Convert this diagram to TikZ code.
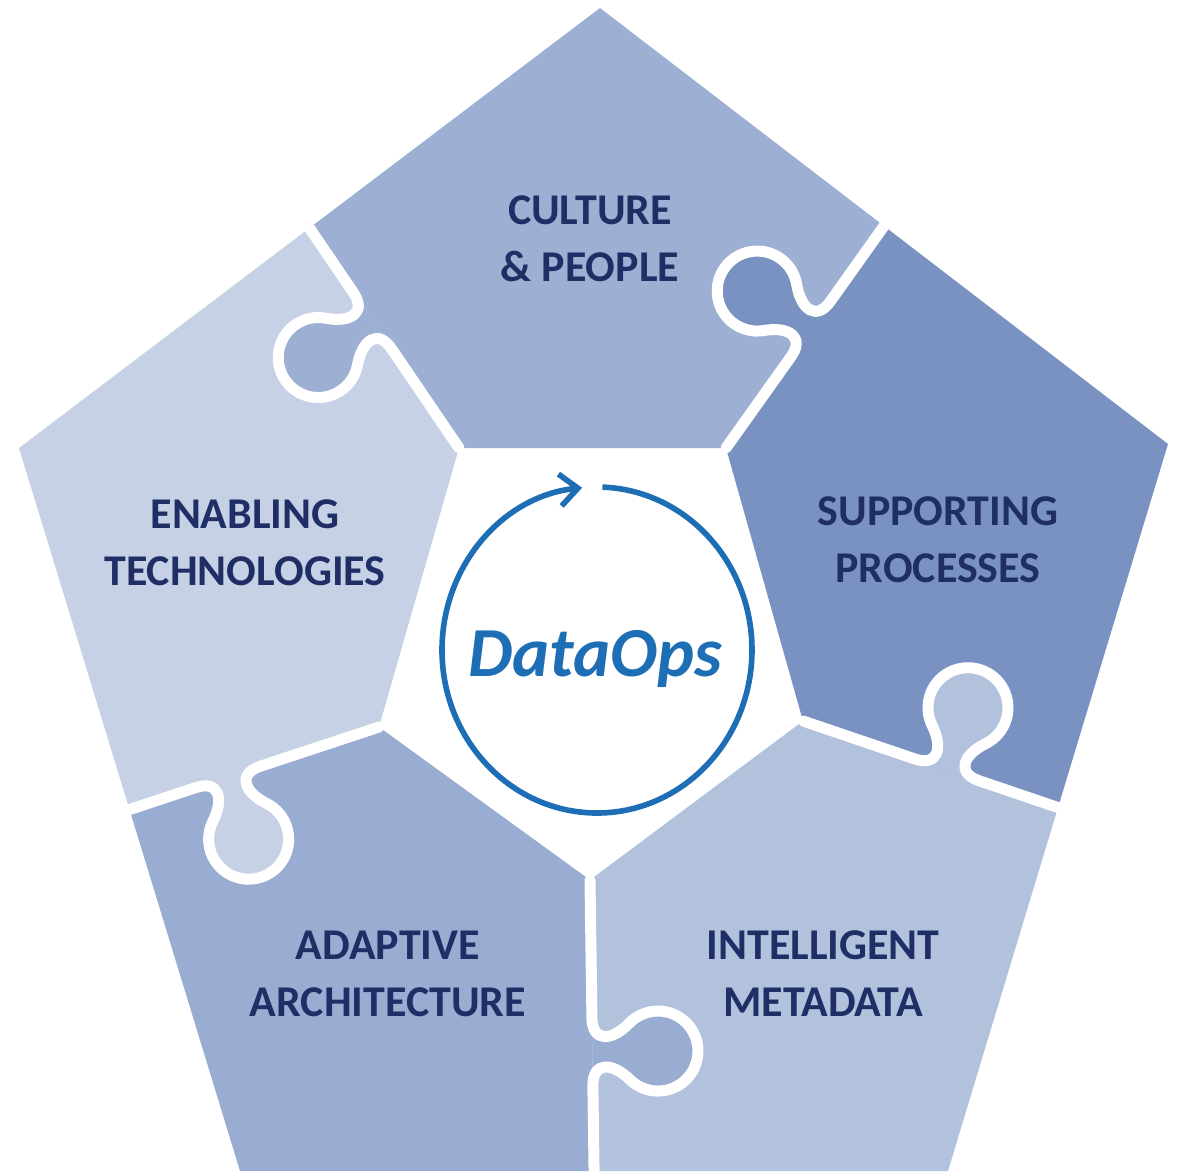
\documentclass[tikz,border=0pt]{standalone}
\usepackage{fontspec}
\setmainfont{Carlito}
\usetikzlibrary{arrows.meta}

\definecolor{culture}{HTML}{9DAFD3}
\definecolor{supporting}{HTML}{7A92C2}
\definecolor{intelligent}{HTML}{B2C1DC}
\definecolor{adaptive}{HTML}{99ACD2}
\definecolor{enabling}{HTML}{C6D1E6}
\definecolor{labelblue}{HTML}{1F2F66}
\definecolor{opsblue}{HTML}{1E6EB6}

\tikzset{
  piecelabel/.style={text=labelblue, font=\fontsize{12.5}{16.2}\selectfont\bfseries, align=center},
  gapline/.style={white, line width=0.11cm, line join=round, line cap=round}
}

\newcommand{\knobedge}[5]{%
  \begin{scope}[shift={(#1)}, rotate=#2]
    \fill[#5] (#4-0.34,0) .. controls (#4-0.1,0) and (#4-0.1,0.19) .. (#4-0.283,0.373)
      arc[start angle=225, end angle=-45, radius=0.4]
      .. controls (#4+0.1,0.19) and (#4+0.1,0) .. (#4+0.34,0) -- cycle;
    \draw[gapline] (0,0) -- (#4-0.34,0) .. controls (#4-0.1,0) and (#4-0.1,0.19) .. (#4-0.283,0.373)
      arc[start angle=225, end angle=-45, radius=0.4]
      .. controls (#4+0.1,0.19) and (#4+0.1,0) .. (#4+0.34,0) -- (#3+0.2,0);
  \end{scope}}

\begin{document}
\begin{tikzpicture}

\useasboundingbox (0,0) rectangle (11.77,-11.74);

\coordinate (T) at (6.00,-0.08);
\coordinate (UR) at (11.68,-4.44);
\coordinate (BR) at (9.48,-11.71);
\coordinate (BL) at (2.40,-11.71);
\coordinate (UL) at (0.19,-4.48);

\coordinate (M1) at (3.095,-2.28);
\coordinate (M2) at (8.84,-2.26);
\coordinate (M3) at (10.58,-8.075);
\coordinate (M4) at (5.94,-11.71);
\coordinate (M5) at (1.295,-8.095);

\coordinate (ITL) at (4.59,-4.48);
\coordinate (ITR) at (7.26,-4.48);
\coordinate (IR) at (8.03,-7.21);
\coordinate (IB) at (5.90,-8.80);
\coordinate (IL) at (3.79,-7.27);

\fill[culture] (M1) -- (T) -- (M2) -- (ITR) -- (ITL) -- cycle;
\fill[supporting] (M2) -- (UR) -- (M3) -- (IR) -- (ITR) -- cycle;
\fill[intelligent] (M3) -- (BR) -- (M4) -- (IB) -- (IR) -- cycle;
\fill[adaptive] (M4) -- (BL) -- (M5) -- (IL) -- (IB) -- cycle;
\fill[enabling] (M5) -- (UL) -- (M1) -- (ITL) -- (IL) -- cycle;

\knobedge{ITL}{124.2}{2.66}{1.54}{culture}
\knobedge{ITR}{54.56}{2.725}{1.46}{supporting}
\knobedge{IR}{-18.74}{2.693}{1.52}{intelligent}
\knobedge{IB}{-89.2}{2.91}{1.72}{adaptive}
\knobedge{IL}{198.3}{2.628}{1.59}{enabling}

\node[piecelabel] (culturetext) at (5.90,-2.39) {CULTURE\\\& PEOPLE};
\node[piecelabel] (enablingtext) at (2.45,-5.43) {ENABLING\\TECHNOLOGIES};
\node[piecelabel] (supportingtext) at (9.38,-5.40) {SUPPORTING\\PROCESSES};
\node[piecelabel] (adaptivetext) at (3.88,-9.74) {ADAPTIVE\\ARCHITECTURE};
\node[piecelabel] (intelligenttext) at (8.23,-9.74) {INTELLIGENT\\METADATA};

\coordinate (hub) at (5.97,-6.50);
\node[text=opsblue, font=\fontsize{20}{24}\selectfont\bfseries\itshape] (dataops) at (5.95,-6.585) {DataOps};
\draw[opsblue, line width=1.6pt, -{Straight Barb[length=1.8mm, width=3.2mm]}]
  ([shift={(88:1.55 and 1.63)}]hub) arc[start angle=88, end angle=-264.5, x radius=1.55, y radius=1.63];

\end{tikzpicture}
\end{document}
